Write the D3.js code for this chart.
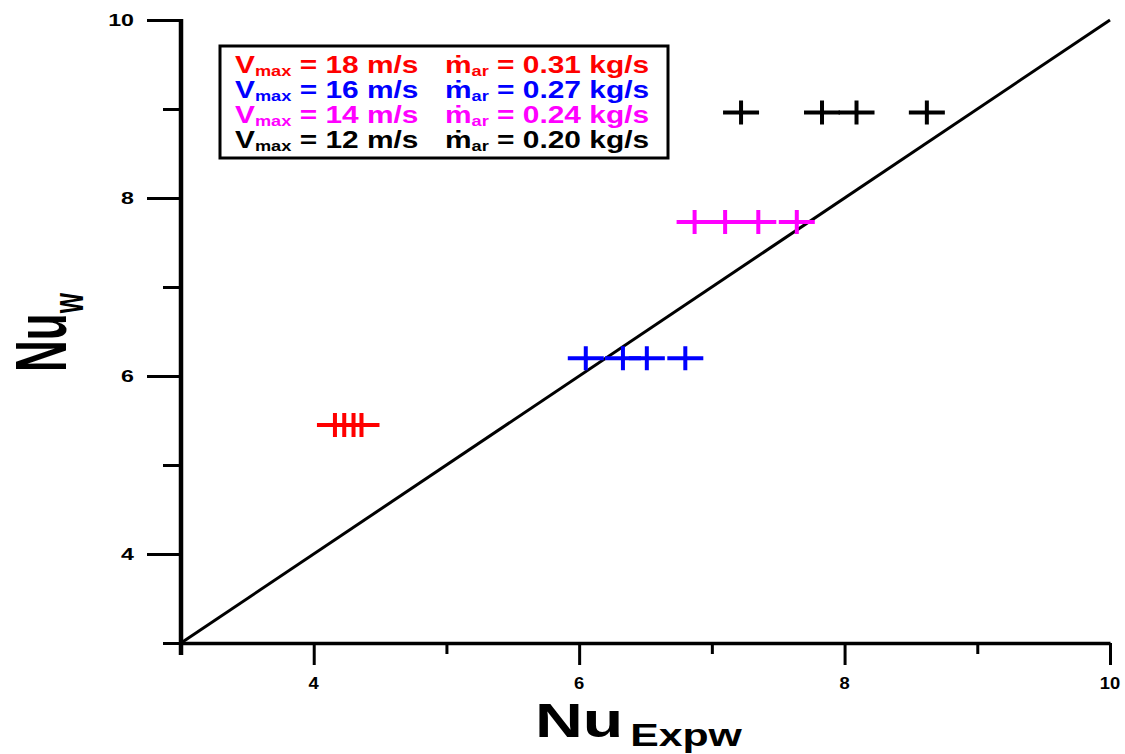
<!DOCTYPE html>
<html>
<head>
<meta charset="utf-8">
<script src="https://cdn.jsdelivr.net/npm/d3@7"></script>
<style>
  html, body { margin: 0; padding: 0; background: #fff; }
  svg { display: block; font-family: "Liberation Sans", Arial, Helvetica, sans-serif; font-weight: bold; }
</style>
</head>
<body>
<svg id="chart" width="1125" height="754"></svg>
<script>
// Series: one row of measured points per inlet velocity / mass-flow setting
const seriesVmax = [18, 16, 14, 12];
const seriesMdot = ["0.31", "0.27", "0.24", "0.20"];
const seriesColors = ["#ff0000", "#0000ff", "#ff00ff", "#000000"];

const nuExpRed = [4.16, 4.23, 4.30, 4.36];
const nuWRed = [5.45, 5.45, 5.45, 5.45];
const nuExpBlue = [6.05, 6.33, 6.51, 6.80];
const nuWBlue = [6.20, 6.20, 6.20, 6.20];
const nuExpMagenta = [6.87, 7.10, 7.35, 7.64];
const nuWMagenta = [7.73, 7.73, 7.73, 7.73];
const nuExpBlack = [7.22, 7.83, 8.09, 8.62];
const nuWBlack = [8.96, 8.96, 8.96, 8.96];

// Axis ticks
const xMajorTicks = [4, 6, 8, 10];
const xMinorTicks = [3, 5, 7, 9];
const yMajorTicks = [4, 6, 8, 10];
const yMinorTicks = [3, 5, 7, 9];
const xDomain = [3, 10];
const yDomain = [3, 10];

const svg = d3.select("#chart");

const x = d3.scaleLinear().domain(xDomain).range([181, 1110]);
const y = d3.scaleLinear().domain(yDomain).range([643, 20]);

// Parity line Nu_w = Nu_Expw
svg.append("line")
  .attr("x1", x(3)).attr("y1", y(3))
  .attr("x2", x(10)).attr("y2", y(10))
  .attr("stroke", "#000").attr("stroke-width", 3);

// X axis: major and minor ticks
const xMajor = svg.append("g").attr("transform", `translate(0,${y(3)})`)
  .call(d3.axisBottom(x).tickValues(xMajorTicks).tickSize(22).tickSizeOuter(0).tickFormat(""));
const xMinor = svg.append("g").attr("transform", `translate(0,${y(3)})`)
  .call(d3.axisBottom(x).tickValues(xMinorTicks).tickSize(11).tickSizeOuter(0).tickFormat(""));
[xMajor, xMinor].forEach(g => {
  g.selectAll(".tick line").attr("stroke", "#000").attr("stroke-width", 3);
});
xMinor.select(".domain").remove();
xMajor.select(".domain").attr("stroke", "#000").attr("stroke-width", 3.5);

svg.append("g").selectAll("text").data(xMajorTicks).join("text")
  .attr("transform", d => `translate(${x(d)},689) scale(1.15,1)`)
  .attr("text-anchor", "middle")
  .attr("font-size", 16)
  .attr("fill", "#000")
  .text(d => d);

// Y axis: major and minor ticks
const yMajor = svg.append("g").attr("transform", `translate(${x(3)},0)`)
  .call(d3.axisLeft(y).tickValues(yMajorTicks).tickSize(34).tickSizeOuter(0).tickFormat(""));
const yMinor = svg.append("g").attr("transform", `translate(${x(3)},0)`)
  .call(d3.axisLeft(y).tickValues(yMinorTicks).tickSize(18).tickSizeOuter(0).tickFormat(""));
[yMajor, yMinor].forEach(g => {
  g.selectAll(".tick line").attr("stroke", "#000").attr("stroke-width", 3);
});
yMinor.select(".domain").remove();
yMajor.select(".domain").remove();
svg.append("line")
  .attr("x1", x(3)).attr("x2", x(3))
  .attr("y1", y(10) - 1).attr("y2", y(3) + 12)
  .attr("stroke", "#000").attr("stroke-width", 4.5);

svg.append("g").selectAll("text").data(yMajorTicks).join("text")
  .attr("transform", d => `translate(134,${y(d) + 6}) scale(1.45,1)`)
  .attr("text-anchor", "end")
  .attr("font-size", 16)
  .attr("fill", "#000")
  .text(d => d);

// Data markers: plus signs
const series = [
  { xs: nuExpRed, ys: nuWRed, color: seriesColors[0] },
  { xs: nuExpBlue, ys: nuWBlue, color: seriesColors[1] },
  { xs: nuExpMagenta, ys: nuWMagenta, color: seriesColors[2] },
  { xs: nuExpBlack, ys: nuWBlack, color: seriesColors[3] }
];
const plusPath = "M-18,0H18M0,-12V12";
series.forEach(s => {
  svg.append("g").selectAll("path").data(s.xs.map((v, i) => [v, s.ys[i]])).join("path")
    .attr("d", plusPath)
    .attr("transform", d => `translate(${x(d[0])},${y(d[1])})`)
    .attr("fill", "none")
    .attr("stroke", s.color)
    .attr("stroke-width", 4);
});

// Legend
const legend = svg.append("g");
legend.append("rect")
  .attr("x", 220).attr("y", 46).attr("width", 448).attr("height", 112)
  .attr("fill", "#fff").attr("stroke", "#000").attr("stroke-width", 3);

seriesVmax.forEach((v, i) => {
  const base = 73 + i * 25;
  const c = seriesColors[i];
  const t1 = legend.append("text")
    .attr("transform", `translate(235,${base}) scale(1.3,1)`)
    .attr("font-size", 23).attr("fill", c);
  t1.append("tspan").text("V");
  t1.append("tspan").attr("font-size", 14).attr("dy", 3).text("max");
  t1.append("tspan").attr("dy", -3).text(` = ${v} m/s`);

  const t2 = legend.append("text")
    .attr("transform", `translate(445,${base}) scale(1.3,1)`)
    .attr("font-size", 23).attr("fill", c);
  t2.append("tspan").text("\u1E41");
  t2.append("tspan").attr("font-size", 14).attr("dy", 3).text("ar");
  t2.append("tspan").attr("dy", -3).text(` = ${seriesMdot[i]} kg/s`);
});

// Axis titles
const xt = svg.append("text")
  .attr("transform", "translate(535,737) scale(1.38,1)")
  .attr("font-size", 48).attr("fill", "#000");
xt.append("tspan").text("Nu");
xt.append("tspan").attr("font-size", 31).attr("dx", 5).attr("dy", 9).text("Expw");

const yt = svg.append("text")
  .attr("transform", "translate(66,372) rotate(-90) scale(1,1.65)")
  .attr("font-size", 44).attr("fill", "#000");
yt.append("tspan").text("Nu");
yt.append("tspan").attr("font-size", 26).attr("dy", 10).text("w");
</script>
</body>
</html>
